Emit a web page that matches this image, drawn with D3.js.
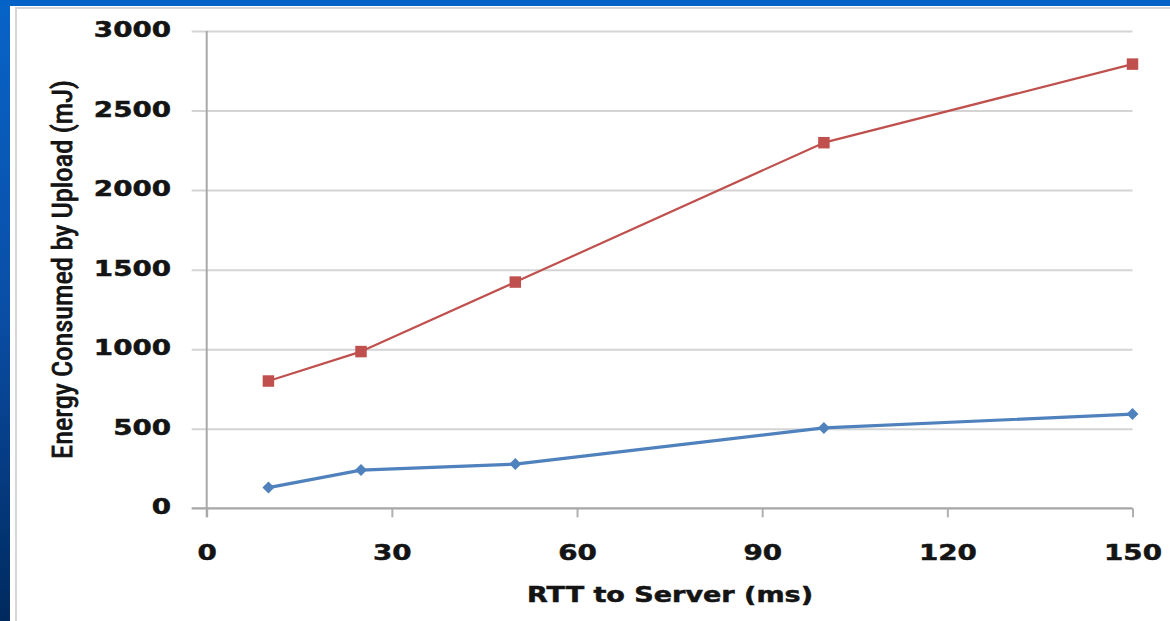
<!DOCTYPE html>
<html>
<head>
<meta charset="utf-8">
<script src="https://cdn.jsdelivr.net/npm/d3@7"></script>
<style>
  html, body { margin: 0; padding: 0; overflow: hidden; background: #fff; }
  svg { display: block; }
</style>
</head>
<body>
<svg id="chart" width="1170" height="621"></svg>
<script>
// ---- data ----
const rtt = [10, 25, 50, 100, 150];
const uploadEnergyLow = [130, 240, 278, 505, 592];      // blue diamonds
const uploadEnergyHigh = [800, 985, 1422, 2298, 2792];  // red squares
const xTicks = [0, 30, 60, 90, 120, 150];
const yTicks = [0, 500, 1000, 1500, 2000, 2500, 3000];
const xTitle = "RTT to Server (ms)";
const yTitle = "Energy Consumed by Upload (mJ)";

const W = 1170, H = 621;
const svg = d3.select("#chart");

// ---- frame / background ----
const defs = svg.append("defs");
const grad = defs.append("linearGradient").attr("id", "bg").attr("x1", 0).attr("y1", 0).attr("x2", 0).attr("y2", 1);
grad.append("stop").attr("offset", "0%").attr("stop-color", "#0864c8");
grad.append("stop").attr("offset", "50%").attr("stop-color", "#0a4ea6");
grad.append("stop").attr("offset", "100%").attr("stop-color", "#002a5e");
svg.append("rect").attr("width", W).attr("height", H).attr("fill", "url(#bg)");
svg.append("rect").attr("x", 0).attr("y", 0).attr("width", W).attr("height", 6).attr("fill", "#0562c6");
svg.append("rect").attr("x", 10).attr("y", 6).attr("width", W).attr("height", H).attr("fill", "#ffffff");
svg.append("rect").attr("x", 16).attr("y", 8).attr("width", W + 20).attr("height", H + 20)
  .attr("fill", "none").attr("stroke", "#d6d6d6").attr("stroke-width", 2);

// ---- scales ----
const x = d3.scaleLinear().domain([0, 150]).range([206.7, 1132.5]);
const y = d3.scaleLinear().domain([0, 3000]).range([508.3, 31]);

// ---- gridlines (with outward ticks on the left) ----
const yAxis = d3.axisLeft(y).tickValues(yTicks).tickSize(-(x(150) - x(0))).tickSizeOuter(0).tickFormat("");
const gy = svg.append("g").attr("transform", `translate(${x(0)},0)`).call(yAxis);
gy.select(".domain").remove();
gy.selectAll(".tick line").attr("stroke", "#d4d4d4").attr("stroke-width", 2)
  .attr("x1", -15);

// x-axis ticks
const xAxis = d3.axisBottom(x).tickValues(xTicks).tickSize(9).tickSizeOuter(0).tickFormat("");
const gx = svg.append("g").attr("transform", `translate(0,${y(0)})`).call(xAxis);
gx.select(".domain").remove();
gx.selectAll(".tick line").attr("stroke", "#b0b0b0").attr("stroke-width", 2);

// axis lines
svg.append("line").attr("x1", x(0) - 15).attr("x2", x(150)).attr("y1", y(0)).attr("y2", y(0))
  .attr("stroke", "#a8a8a8").attr("stroke-width", 2);
svg.append("line").attr("x1", x(0)).attr("x2", x(0)).attr("y1", y(3000)).attr("y2", y(0) + 9)
  .attr("stroke", "#a8a8a8").attr("stroke-width", 2);

// ---- tick labels ----
const labelFont = "'DejaVu Sans', Verdana, sans-serif";
svg.append("g").selectAll("g").data(yTicks).join("g")
  .attr("transform", d => `translate(171,${y(d) + 6}) scale(1.29,1)`)
  .append("text")
  .attr("text-anchor", "end")
  .attr("font-family", labelFont).attr("font-weight", "bold").attr("font-size", 21.5)
  .attr("fill", "#141414").attr("stroke", "#141414").attr("stroke-width", 0.5)
  .text(d => d);

svg.append("g").selectAll("g").data(xTicks).join("g")
  .attr("transform", d => `translate(${x(d) + 0.5},560) scale(1.29,1)`)
  .append("text")
  .attr("text-anchor", "middle")
  .attr("font-family", labelFont).attr("font-weight", "bold").attr("font-size", 21.5)
  .attr("fill", "#141414").attr("stroke", "#141414").attr("stroke-width", 0.5)
  .text(d => d);

// ---- axis titles ----
svg.append("text")
  .attr("x", 527).attr("y", 601.5)
  .attr("font-family", labelFont).attr("font-weight", "bold").attr("font-size", 21.5)
  .attr("fill", "#141414").attr("stroke", "#141414").attr("stroke-width", 0.5)
  .attr("textLength", 286).attr("lengthAdjust", "spacingAndGlyphs")
  .text(xTitle);

svg.append("text")
  .attr("transform", `translate(72,459) rotate(-90)`)
  .attr("font-family", "'Liberation Sans Narrow', 'Roboto Condensed', 'DejaVu Sans Condensed', 'Liberation Sans', sans-serif")
  .attr("font-size", 28)
  .attr("fill", "#141414").attr("stroke", "#141414").attr("stroke-width", 0.9)
  .attr("textLength", 379).attr("lengthAdjust", "spacingAndGlyphs")
  .text(yTitle);

// ---- series ----
const lineGen = d3.line().x((d, i) => x(rtt[i])).y(d => y(d));

svg.append("path").datum(uploadEnergyLow)
  .attr("d", lineGen).attr("fill", "none").attr("stroke", "#4f81bd").attr("stroke-width", 3.2)
  .attr("stroke-linejoin", "round");
svg.append("path").datum(uploadEnergyHigh)
  .attr("d", lineGen).attr("fill", "none").attr("stroke", "#c0504d").attr("stroke-width", 2.2)
  .attr("stroke-linejoin", "round");

svg.append("g").selectAll("path").data(uploadEnergyLow).join("path")
  .attr("d", d3.symbol(d3.symbolSquare, 72)())
  .attr("transform", (d, i) => `translate(${x(rtt[i])},${y(d)}) rotate(45)`)
  .attr("fill", "#4f81bd");

svg.append("g").selectAll("path").data(uploadEnergyHigh).join("path")
  .attr("d", d3.symbol(d3.symbolSquare, 132)())
  .attr("transform", (d, i) => `translate(${x(rtt[i])},${y(d)})`)
  .attr("fill", "#c0504d");
</script>
</body>
</html>
